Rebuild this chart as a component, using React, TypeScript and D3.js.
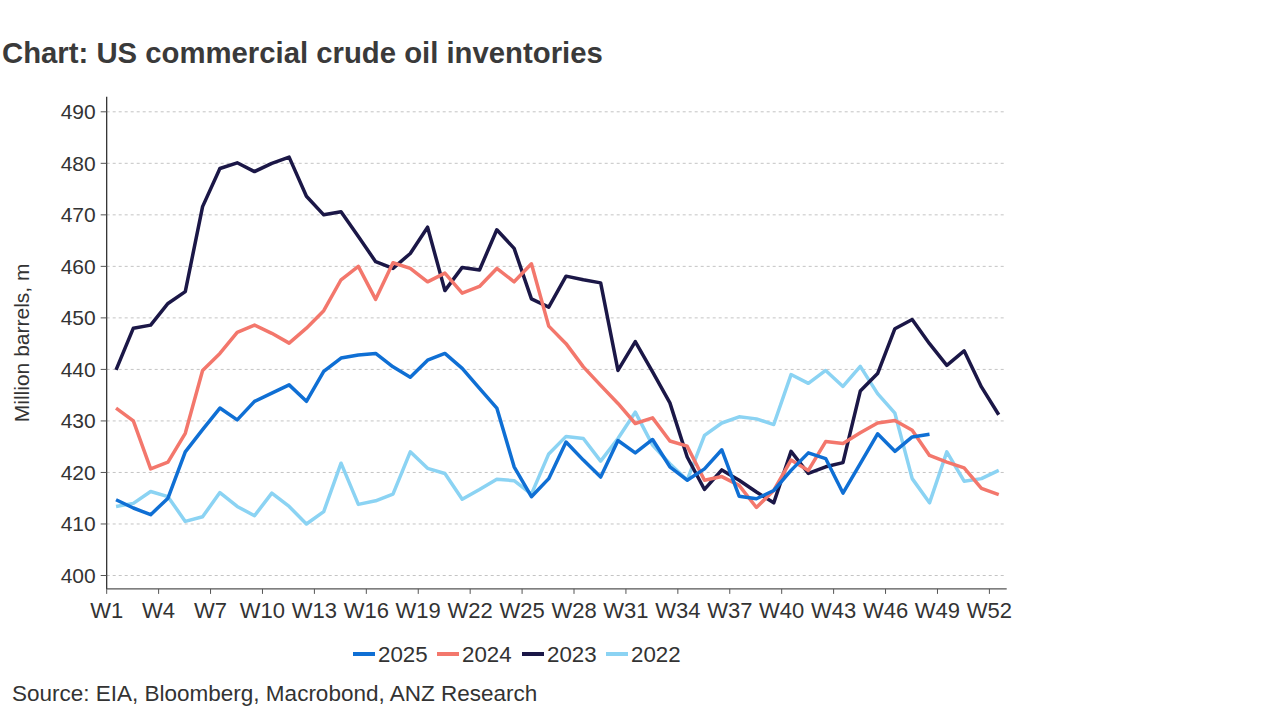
import * as d3 from "d3";
import React, { useEffect, useRef } from "react";

// weekly commercial crude inventories, million barrels
const weeks = d3.range(1, 53);
const tickWeeks = [1, 4, 7, 10, 13, 16, 19, 22, 25, 28, 31, 34, 37, 40, 43, 46, 49, 52];
const yTicks = [400, 410, 420, 430, 440, 450, 460, 470, 480, 490];

const y2025 = [
  414.7, 413.1, 411.8, 415.0, 424.0, 428.3, 432.5, 430.2, 433.8, 435.4, 437.0, 433.8, 439.6,
  442.2, 442.8, 443.1, 440.5, 438.5, 441.8, 443.1, 440.2, 436.3, 432.5, 421.1, 415.3, 418.8,
  425.9, 422.4, 419.1, 426.2, 423.8, 426.4, 421.1, 418.5, 420.7, 424.4, 415.4, 414.9, 416.5,
  420.4, 423.8, 422.7, 416.0, 421.7, 427.5, 424.1, 426.9, 427.4,
];
const y2024 = [
  432.5, 430.0, 420.7, 422.0, 427.6, 439.8, 443.1, 447.2, 448.6, 447.0, 445.1, 448.0, 451.4,
  457.4, 460.0, 453.6, 460.7, 459.6, 457.0, 458.7, 454.8, 456.1, 459.6, 457.0, 460.5, 448.4,
  445.0, 440.5, 436.9, 433.4, 429.5, 430.6, 426.1, 425.1, 418.5, 419.2, 417.5, 413.2, 416.5,
  422.4, 420.4, 426.0, 425.6, 427.7, 429.6, 430.1, 428.2, 423.3, 422.0, 420.9, 416.9, 415.7,
];
const y2023 = [
  439.9, 448.0, 448.6, 452.8, 455.1, 471.6, 479.0, 480.1, 478.4, 480.0, 481.2, 473.6, 470.0,
  470.6, 465.8, 460.9, 459.6, 462.5, 467.6, 455.3, 459.8, 459.3, 467.1, 463.5, 453.7, 452.1,
  458.1, 457.4, 456.8, 439.8, 445.4, 439.5, 433.5, 423.0, 416.7, 420.5, 418.5, 416.2, 414.1,
  424.1, 419.8, 421.1, 421.9, 435.8, 439.2, 447.9, 449.7, 445.0, 440.8, 443.6, 436.6, 431.2,
];
const y2022 = [
  413.4, 414.0, 416.3, 415.3, 410.5, 411.4, 416.1, 413.4, 411.6, 416.0, 413.4, 410.0, 412.4,
  421.8, 413.8, 414.5, 415.8, 424.0, 420.8, 419.8, 414.8, 416.7, 418.7, 418.4, 415.8, 423.6,
  427.0, 426.6, 422.2, 426.6, 431.7, 425.3, 421.7, 418.5, 427.2, 429.6, 430.8, 430.4, 429.3,
  439.0, 437.3, 439.8, 436.7, 440.6, 435.3, 431.5, 418.8, 414.1, 424.0, 418.3, 418.8, 420.4,
];

const seriesNames = ["2025", "2024", "2023", "2022"];
const seriesValues = [y2025, y2024, y2023, y2022];
const seriesColors = ["#0f6fd4", "#f3776c", "#1b1747", "#8bd3f3"];

const FONT = "'Liberation Sans', Arial, sans-serif";
const TEXT = "#333333";

const Chart: React.FC = () => {
  const ref = useRef<SVGSVGElement>(null);

  useEffect(() => {
    if (!ref.current) return;
    const svg = d3.select(ref.current);
    svg.selectAll("*").remove();

    const x = d3.scaleLinear().domain([1, 53]).range([106.7, 1006.7]);
    const y = d3.scaleLinear().domain([400, 490]).range([575.5, 111.8]);
    const axisBottom = y(397.4);
    const axisTop = y(492.9);

    // title
    svg
      .append("text")
      .attr("x", 2)
      .attr("y", 63)
      .attr("font-family", FONT)
      .attr("font-weight", "bold")
      .attr("font-size", 29.3)
      .attr("fill", "#3a3a3a")
      .text("Chart: US commercial crude oil inventories");

    // gridlines
    svg
      .append("g")
      .selectAll("line")
      .data(yTicks)
      .enter()
      .append("line")
      .attr("x1", x(1))
      .attr("x2", x(53))
      .attr("y1", (d) => y(d))
      .attr("y2", (d) => y(d))
      .attr("stroke", "#c4c4c4")
      .attr("stroke-width", 1)
      .attr("stroke-dasharray", "3,3");

    // y axis
    const yAxis = svg.append("g").attr("transform", `translate(${x(1)},0)`);
    yAxis
      .append("line")
      .attr("y1", axisTop)
      .attr("y2", axisBottom)
      .attr("stroke", "#222")
      .attr("stroke-width", 1.2);
    const yt = yAxis.selectAll("g.t").data(yTicks).enter().append("g").attr("class", "t");
    yt.append("line")
      .attr("x1", -6)
      .attr("x2", 0)
      .attr("y1", (d) => y(d))
      .attr("y2", (d) => y(d))
      .attr("stroke", "#555");
    yt.append("text")
      .attr("x", -11)
      .attr("y", (d) => y(d))
      .attr("dy", "0.35em")
      .attr("text-anchor", "end")
      .attr("font-family", FONT)
      .attr("font-size", 21)
      .attr("fill", TEXT)
      .text((d) => d);

    svg
      .append("text")
      .attr("transform", `translate(29,${(axisTop + axisBottom) / 2}) rotate(-90)`)
      .attr("text-anchor", "middle")
      .attr("font-family", FONT)
      .attr("font-size", 21)
      .attr("fill", TEXT)
      .text("Million barrels, m");

    // x axis
    const xAxis = svg.append("g").attr("transform", `translate(0,${axisBottom})`);
    xAxis
      .append("line")
      .attr("x1", x(1))
      .attr("x2", x(53))
      .attr("stroke", "#555")
      .attr("stroke-width", 1.2);
    const xt = xAxis.selectAll("g.t").data(tickWeeks).enter().append("g").attr("class", "t");
    xt.append("line")
      .attr("x1", (d) => x(d))
      .attr("x2", (d) => x(d))
      .attr("y1", 0)
      .attr("y2", 5)
      .attr("stroke", "#555");
    xt.append("text")
      .attr("x", (d) => x(d))
      .attr("y", 29.5)
      .attr("text-anchor", "middle")
      .attr("font-family", FONT)
      .attr("font-size", 22)
      .attr("fill", TEXT)
      .text((d) => `W${d}`);

    // lines, 2022 at the bottom
    const line = d3
      .line<number>()
      .x((_, i) => x(weeks[i] + 0.54))
      .y((d) => y(d));
    const order = [3, 2, 1, 0];
    svg
      .append("g")
      .selectAll("path")
      .data(order)
      .enter()
      .append("path")
      .attr("d", (k) => line(seriesValues[k]))
      .attr("fill", "none")
      .attr("stroke", (k) => seriesColors[k])
      .attr("stroke-width", 3.5)
      .attr("stroke-linejoin", "round");

    // legend
    const legendX = [353, 437, 522, 606];
    const lg = svg
      .append("g")
      .selectAll("g")
      .data(seriesNames)
      .enter()
      .append("g")
      .attr("transform", (_, i) => `translate(${legendX[i]},654)`);
    lg.append("line")
      .attr("x1", 0)
      .attr("x2", 22)
      .attr("stroke", (_, i) => seriesColors[i])
      .attr("stroke-width", 4);
    lg.append("text")
      .attr("x", 25)
      .attr("y", 8)
      .attr("font-family", FONT)
      .attr("font-size", 22.3)
      .attr("fill", TEXT)
      .text((d) => d);

    // source
    svg
      .append("text")
      .attr("x", 12)
      .attr("y", 701)
      .attr("font-family", FONT)
      .attr("font-size", 22.5)
      .attr("fill", TEXT)
      .text("Source: EIA, Bloomberg, Macrobond, ANZ Research");
  }, []);

  return <svg ref={ref} width={1280} height={720} style={{ display: "block" }}></svg>;
};

const App: React.FC = () => {
  return (
    <div style={{ position: "absolute", left: 0, top: 0, width: 1280, height: 720, background: "#fff" }}>
      <Chart />
    </div>
  );
};

export default App;
